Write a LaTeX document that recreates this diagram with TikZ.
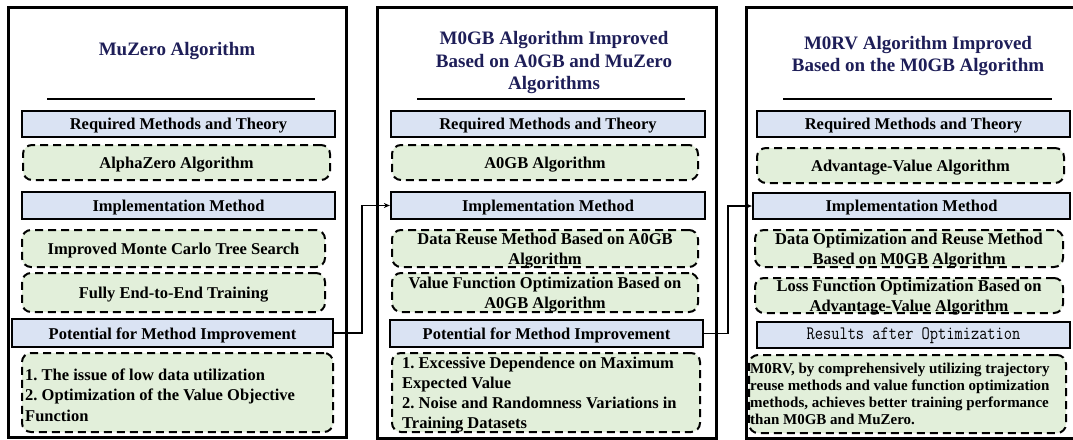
\documentclass[tikz,border=0pt]{standalone}
\usepackage{fontspec}
\setmainfont{Liberation Serif}
\newfontfamily\resultfont[FakeStretch=0.84]{Latin Modern Mono}
\usetikzlibrary{arrows.meta}
\frenchspacing

\definecolor{headnavy}{RGB}{30,30,88}
\definecolor{boxblue}{RGB}{218,227,243}
\definecolor{boxgreen}{RGB}{226,239,218}

\tikzset{
  panel/.style={draw=black, line width=3pt},
  bluebox/.style={draw=black, line width=2.3pt, fill=boxblue, inner sep=0pt},
  greenbox/.style={draw=black, line width=2pt, dash pattern=on 8pt off 5pt,
    fill=boxgreen, rounded corners=9pt, inner sep=0pt},
  headtext/.style={font=\bfseries\fontsize{19}{22.5}\selectfont, text=headnavy,
    align=center, inner sep=0pt},
  boxtext/.style={font=\bfseries\fontsize{16.5}{20}\selectfont, align=center,
    inner sep=0pt, yshift=-2pt},
  monotext/.style={font=\resultfont\fontsize{19}{20}\selectfont, inner sep=0pt, yshift=-1pt},
  listtext/.style={font=\bfseries\fontsize{16.5}{20.3}\selectfont, align=left,
    anchor=west, inner sep=0pt},
  smalllist/.style={font=\bfseries\fontsize{15}{17}\selectfont, align=left,
    anchor=west, inner sep=0pt},
  rulerline/.style={line width=1.2pt},
  link/.style={line width=1.4pt, -{Stealth[length=6pt,width=5pt]}},
}

% box of a given style between corners (x1,y1) and (x2,y2), text node #3-t at its centre
\newcommand\tbox[8][boxtext]{%
  \node[#2, minimum width={(#6-(#4))*1pt}, minimum height={(#7-(#5))*1pt}]
    (#3) at ({(#4+#6)/2},{(#5+#7)/2}) {};
  \node[#1] (#3-t) at (#3.center) {#8};}

\begin{document}
\begin{tikzpicture}[x=1pt, y=-1pt]
\useasboundingbox (0,0) rectangle (1073,439);
\fill[white] (0,0) rectangle (1073,439);

% ---------- column 1: MuZero ----------
\node[panel, minimum width=338pt, minimum height=430pt] (col1) at (177,222) {};
\node[headtext] (h1) at (177,51) {MuZero Algorithm};
\coordinate (r1a) at (47,99);
\coordinate (r1b) at (315,99);
\draw[rulerline] (r1a) -- (r1b);
\tbox{bluebox}{p1req}{22}{111}{335}{137}{Required Methods and Theory}
\tbox{greenbox}{p1alpha}{23}{145}{330}{180}{AlphaZero Algorithm}
\tbox{bluebox}{p1impl}{22}{192}{335}{219}{Implementation Method}
\tbox{greenbox}{p1mcts}{22}{230}{325}{267}{Improved Monte Carlo Tree Search}
\tbox{greenbox}{p1e2e}{22}{273}{325}{312}{Fully End-to-End Training}
\tbox{bluebox}{p1pot}{12}{319}{333}{347}{Potential for Method Improvement}
\tbox[listtext]{greenbox}{p1res}{22}{353}{333}{432}{}
\node[listtext] (p1list) at (25,395) {1. The issue of low data utilization\\
  2. Optimization of the Value Objective\\Function};

% ---------- column 2: M0GB ----------
\node[panel, minimum width=339pt, minimum height=431pt] (col2) at (546.5,222.5) {};
\node[headtext] (h2) at (554,63) {M0GB Algorithm Improved\\Based on A0GB and MuZero\\Algorithms};
\coordinate (r2a) at (417,99);
\coordinate (r2b) at (685,99);
\draw[rulerline] (r2a) -- (r2b);
\tbox{bluebox}{p2req}{391}{111}{705}{137}{Required Methods and Theory}
\tbox{greenbox}{p2a0gb}{392}{145}{698}{180}{A0GB Algorithm}
\tbox{bluebox}{p2impl}{391}{192}{705}{219}{Implementation Method}
\tbox{greenbox}{p2reuse}{392}{230}{698}{267}{Data Reuse Method Based on A0GB\\Algorithm}
\tbox{greenbox}{p2value}{392}{273}{698}{312}{Value Function Optimization Based on\\A0GB Algorithm}
\tbox{bluebox}{p2pot}{390}{320}{703}{347}{Potential for Method Improvement}
\tbox[listtext]{greenbox}{p2res}{392}{353}{700}{432}{}
\node[listtext, font=\bfseries\fontsize{16.5}{20}\selectfont] (p2list) at (402,395)
  {1. Excessive Dependence on Maximum\\Expected Value\\
   2. Noise and Randomness Variations in\\Training Datasets};

% ---------- column 3: M0RV ----------
\coordinate (c3tr) at (1085,7);
\coordinate (c3tl) at (746,7);
\coordinate (c3bl) at (746,438);
\coordinate (c3br) at (1085,438);
\draw[panel] (c3tr) -- (c3tl) -- (c3bl) -- (c3br);
\node[headtext] (h3) at (918,56) {M0RV Algorithm Improved\\Based on the M0GB Algorithm};
\coordinate (r3a) at (783,99);
\coordinate (r3b) at (1052,99);
\draw[rulerline] (r3a) -- (r3b);
\tbox{bluebox}{p3req}{757}{111}{1070}{137}{Required Methods and Theory}
\tbox{greenbox}{p3adv}{757}{148}{1064}{183}{Advantage-Value Algorithm}
\tbox{bluebox}{p3impl}{753}{193}{1070}{219}{Implementation Method}
\tbox{greenbox}{p3data}{755}{230}{1063}{267}{Data Optimization and Reuse Method\\Based on M0GB Algorithm}
\tbox{greenbox}{p3loss}{755}{278}{1063}{313}{Loss Function Optimization Based on\\Advantage-Value Algorithm}
\tbox[monotext]{bluebox}{p3rslt}{757}{322}{1070}{348}{Results after Optimization}
\tbox[smalllist]{greenbox}{p3conc}{749}{355}{1066}{433}{}
\node[smalllist] (p3list) at (750,394)
  {M0RV, by comprehensively utilizing trajectory\\
   reuse methods and value function optimization\\
   methods, achieves better training performance\\
   than M0GB and MuZero.};

% ---------- links between columns ----------
\coordinate (j1) at (362,333);
\coordinate (j2) at (728,333.5);
\draw[link] (p1pot.east) -- (j1) |- (p2impl.west);
\draw[link] (p2pot.east) -- (j2) |- (p3impl.west);
\end{tikzpicture}
\end{document}
